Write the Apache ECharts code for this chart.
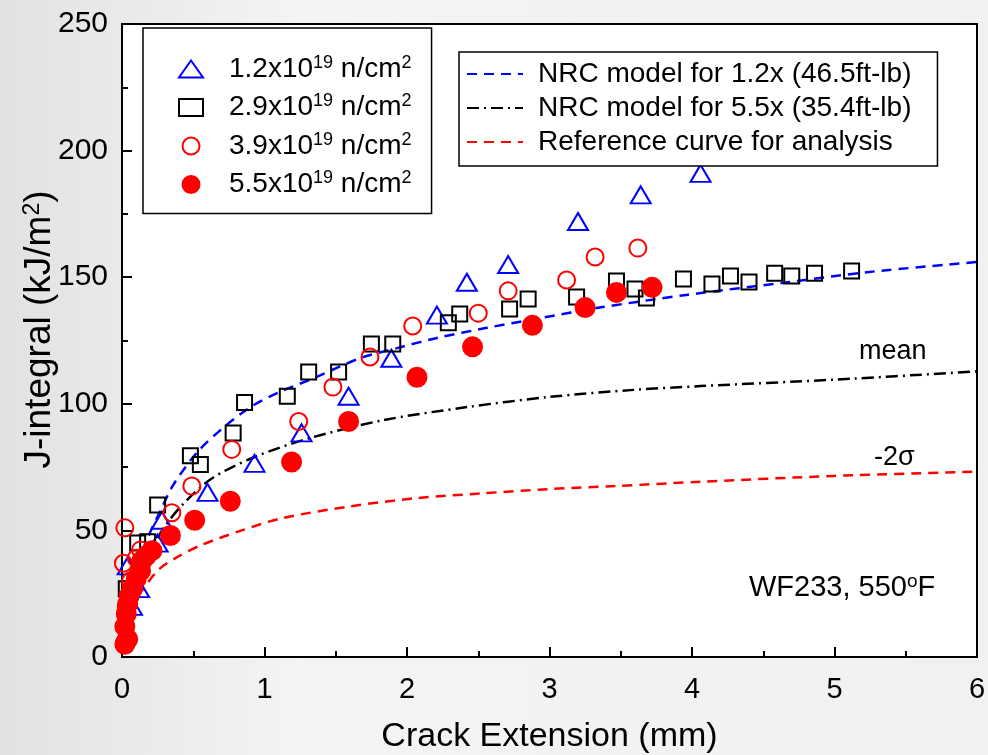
<!DOCTYPE html>
<html><head><meta charset="utf-8">
<script src="https://cdn.jsdelivr.net/npm/echarts@6/dist/echarts.min.js"></script>
<style>html,body{margin:0;padding:0;background:#eeeeee}#c{width:988px;height:755px}</style>
</head><body><div id="c"></div>
<script>
// ---- data ----
const xTicks = [0, 1, 2, 3, 4, 5, 6];
const yTicks = [0, 50, 100, 150, 200, 250];

const nameTri = '1.2x10^19 n/cm^2';
const nameSq = '2.9x10^19 n/cm^2';
const nameOpen = '3.9x10^19 n/cm^2';
const nameDot = '5.5x10^19 n/cm^2';
const nameBlueLine = 'NRC model for 1.2x (46.5ft-lb)';
const nameBlackLine = 'NRC model for 5.5x (35.4ft-lb)';
const nameRedLine = 'Reference curve for analysis';

const tri12 = [[0.04,36],[0.07,20],[0.12,27],[0.25,45],[0.28,54],[0.6,65],[0.93,76.5],[1.26,88.5],[1.59,103],[1.89,118],[2.21,135],[2.42,148],[2.71,155],[3.2,172],[3.64,182.5],[4.06,191]];
const sq29 = [[0.03,27],[0.11,45],[0.18,45.5],[0.25,60],[0.48,79.5],[0.55,76],[0.78,88.5],[0.86,100.5],[1.16,103],[1.31,112.6],[1.52,112.6],[1.75,123.6],[1.9,123.6],[2.29,132],[2.37,135.5],[2.72,137.4],[2.85,141.4],[3.19,142.2],[3.47,148.5],[3.6,145.3],[3.68,141.8],[3.94,149.3],[4.14,147.3],[4.27,150.5],[4.4,148.1],[4.58,151.6],[4.7,150.5],[4.86,151.6],[5.12,152.4]];
const open39 = [[0.02,6],[0.03,20],[0.06,30],[0.01,37],[0.1,39],[0.02,51],[0.13,42.3],[0.35,57],[0.49,67.5],[0.77,82],[1.24,93],[1.48,106.6],[1.74,118.5],[2.04,130.7],[2.5,135.8],[2.71,144.6],[3.12,148.9],[3.32,158],[3.62,161.5]];
const dot55 = [[0.02,5],[0.04,7],[0.02,12],[0.03,17],[0.04,21],[0.05,24],[0.07,27],[0.1,31],[0.13,34],[0.14,38],[0.17,40],[0.21,42],[0.34,48],[0.51,54],[0.76,61.5],[1.19,77],[1.59,93],[2.07,110.5],[2.46,122.5],[2.88,131],[3.25,138],[3.47,144],[3.72,146]];

const curveBlue = [[0.02,16],[0.05,25],[0.1,35],[0.18,47],[0.28,59],[0.36,68],[0.53,81],[0.72,91],[0.91,99],[1.1,104.5],[1.34,110],[1.67,118],[1.93,122],[2.21,126],[2.56,130],[2.95,134],[3.35,138],[3.96,143],[4.67,148],[5.23,152],[6.0,156]];
const curveBlack = [[0.1,30],[0.2,42],[0.3,51.5],[0.43,60.5],[0.63,70.5],[0.93,79],[1.32,86.5],[1.83,93.5],[2.42,98.7],[3.0,102.7],[3.59,105.5],[4.06,107],[4.99,109.5],[6.0,112.8]];
const curveRed = [[0.01,5],[0.03,11],[0.06,17],[0.115,24],[0.255,34.4],[0.38,39.2],[0.56,44.3],[0.84,50],[1.12,54.8],[1.59,59.4],[2.06,62.7],[2.52,64.6],[2.99,66.3],[3.46,67.5],[4.06,69.2],[4.99,71.5],[6.0,73.2]];

// ---- chart ----
const FONT = 'Liberation Sans, Arial, sans-serif';
const chart = echarts.init(document.getElementById('c'));
const supFmt = n => n.replace(/\^(\w+)/g, '{sup|$1}');

const lineSeries = (name, data, color, dash) => ({
  name, type: 'line', data, symbol: 'none', smooth: 0.3, silent: true,
  lineStyle: { color, width: 2.5, type: dash }, itemStyle: { color }, z: 2
});
const scatterSeries = (name, data, symbol, size, fill, stroke) => ({
  name, type: 'scatter', data, symbol, symbolSize: size, silent: true,
  itemStyle: { color: fill, borderColor: stroke, borderWidth: 2, opacity: 1 }, z: 3
});

chart.setOption({
  backgroundColor: { type: 'linear', x: 0, y: 0, x2: 1, y2: 0,
    colorStops: [{ offset: 0, color: '#e2e2e2' }, { offset: 0.3, color: '#f4f4f4' }, { offset: 1, color: '#f1f1f1' }] },
  animation: false,
  textStyle: { fontFamily: FONT, color: '#000' },
  grid: { left: 122, right: 11, top: 24, bottom: 98, containLabel: false, outerBoundsMode: 'none',
    show: true, backgroundColor: '#fff', borderColor: '#000', borderWidth: 2 },
  xAxis: {
    type: 'value', min: xTicks[0], max: xTicks[xTicks.length - 1], interval: 1,
    name: 'Crack Extension (mm)', nameLocation: 'middle', nameGap: 63,
    nameTextStyle: { fontSize: 34, fontFamily: FONT, color: '#000' },
    axisLine: { lineStyle: { color: '#000', width: 2 } },
    axisTick: { inside: true, length: 10, lineStyle: { width: 2, color: '#000' } },
    minorTick: { show: true, splitNumber: 2, length: 6, lineStyle: { width: 2, color: '#000' } },
    axisLabel: { fontSize: 29, margin: 18, color: '#000', fontFamily: FONT },
    splitLine: { show: false }
  },
  yAxis: {
    type: 'value', min: yTicks[0], max: yTicks[yTicks.length - 1], interval: 50,
    name: 'J-integral (kJ/m{sup|2})', nameLocation: 'middle', nameGap: 64, nameMoveOverlap: false,
    nameTextStyle: { fontSize: 37, fontFamily: FONT, color: '#000', padding: [0, 0, 0, 22],
      rich: { sup: { fontSize: 23, verticalAlign: 'top', lineHeight: 23, fontFamily: FONT } } },
    axisLine: { lineStyle: { color: '#000', width: 2 } },
    axisTick: { inside: true, length: 10, lineStyle: { width: 2, color: '#000' } },
    minorTick: { show: true, splitNumber: 2, length: 6, lineStyle: { width: 2, color: '#000' } },
    axisLabel: { fontSize: 30, margin: 14, color: '#000', fontFamily: FONT },
    splitLine: { show: false }
  },
  legend: [
    {
      data: [nameTri, nameSq, nameOpen, nameDot], orient: 'vertical', left: 143, top: 28,
      backgroundColor: '#fff', borderColor: '#000', borderWidth: 1.5,
      padding: [26, 20, 14, 35], itemGap: 8.5, itemWidth: 24, itemHeight: 17,
      formatter: supFmt, selectedMode: false,
      textStyle: { fontSize: 28, lineHeight: 30, fontFamily: FONT, color: '#000', padding: [0, 0, 0, 21],
        rich: { sup: { fontSize: 18, lineHeight: 17, verticalAlign: 'top', fontFamily: FONT, color: '#000' } } }
    },
    {
      data: [nameBlueLine, nameBlackLine, nameRedLine], orient: 'vertical', left: 459, top: 52,
      backgroundColor: '#fff', borderColor: '#000', borderWidth: 1.5,
      padding: [8, 26, 10, 7], itemGap: 6, itemWidth: 56, itemHeight: 14, selectedMode: false,
      itemStyle: { color: 'rgba(0,0,0,0)', borderWidth: 0, opacity: 0 },
      textStyle: { fontSize: 28, lineHeight: 28, fontFamily: FONT, color: '#000', padding: [0, 0, 0, 10] }
    }
  ],
  graphic: [
    { type: 'text', left: 859, top: 338, style: { text: 'mean', fontSize: 27, fontFamily: FONT, fill: '#000' } },
    { type: 'text', left: 874, top: 444, style: { text: '-2σ', fontSize: 27, fontFamily: FONT, fill: '#000' } },
    { type: 'text', left: 749, top: 572, style: { text: 'WF233, 550{sup|o}F', fontSize: 29, lineHeight: 32, fontFamily: FONT, fill: '#000',
      rich: { sup: { fontSize: 19, lineHeight: 18, verticalAlign: 'top', fontFamily: FONT, fill: '#000' } } } }
  ],
  series: [
    lineSeries(nameBlueLine, curveBlue, '#0000ff', [10, 7]),
    lineSeries(nameBlackLine, curveBlack, '#000000', [12, 5, 2, 5]),
    lineSeries(nameRedLine, curveRed, '#ff0000', [10, 7]),
    scatterSeries(nameTri, tri12, 'triangle', [20, 17], 'rgba(0,0,0,0)', '#0000ff'),
    scatterSeries(nameSq, sq29, 'rect', 15, 'rgba(0,0,0,0)', '#000000'),
    scatterSeries(nameOpen, open39, 'circle', 17, 'rgba(0,0,0,0)', '#ff0000'),
    scatterSeries(nameDot, dot55, 'circle', 19, '#ff0000', '#ff0000')
  ]
});
</script>
</body></html>
